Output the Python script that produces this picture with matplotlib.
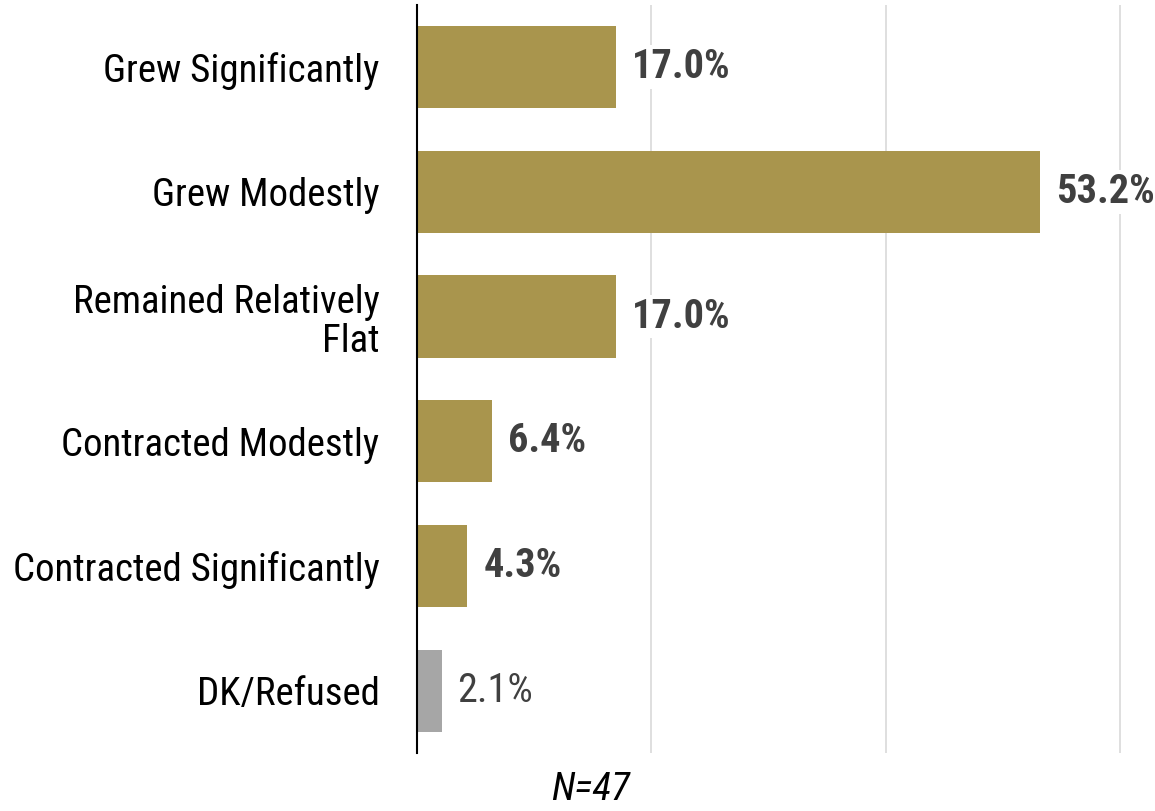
import matplotlib.pyplot as plt

plt.rcParams['font.family'] = ['Roboto Condensed', 'DejaVu Sans']

categories = ['Grew Significantly', 'Grew Modestly', 'Remained Relatively\nFlat',
              'Contracted Modestly', 'Contracted Significantly', 'DK/Refused']
values = [17.0, 53.2, 17.0, 6.4, 4.3, 2.1]
colors = ['#A9954D'] * 5 + ['#A6A6A6']

fig = plt.figure(figsize=(11.55, 8.11), dpi=100)
ax = fig.add_axes([0.361, 0.0715, 0.639, 0.9225])

y = list(range(len(categories)))
ax.barh(y, values, height=0.66, color=colors, zorder=2)
ax.set_xlim(0, 63)
ax.set_ylim(len(categories) - 0.5, -0.5)
ax.set_yticks(y)
ax.set_yticklabels(categories, fontsize=28, ha='right', multialignment='right',
                   linespacing=1.1)
ax.tick_params(axis='y', length=0, pad=27)
ax.set_xticks([20, 40, 60])
ax.set_xticklabels([])
ax.tick_params(axis='x', length=0)
ax.grid(axis='x', color='#D9D9D9', linewidth=1.2, zorder=0)

for s in ['top', 'right', 'bottom']:
    ax.spines[s].set_visible(False)
ax.spines['left'].set_linewidth(1.5)
ax.spines['left'].set_zorder(3)

for i, v in enumerate(values):
    bold = i < 5
    ax.annotate(f'{v:.1f}%', (v, i), xytext=(16, 0), textcoords='offset pixels',
                va='center', ha='left', fontsize=29,
                fontweight='bold' if bold else 'normal', color='#404040',
                bbox=dict(facecolor='white', edgecolor='none', pad=2), zorder=4)

fig.text(0.511, 0.027, 'N=47', fontsize=28, style='italic', ha='center', va='center')

fig.savefig('out.png', dpi=100)
